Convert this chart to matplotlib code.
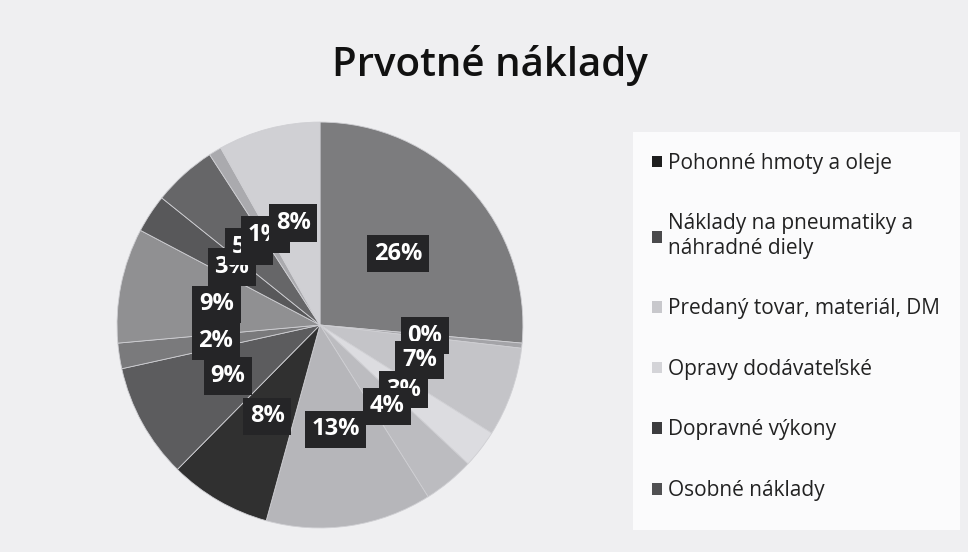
import matplotlib
matplotlib.use('Agg')
import matplotlib.pyplot as plt

# slice values in percent, clockwise from 12 o'clock
values = [26, 0.4, 7, 3, 4, 13, 8, 9, 2, 9, 3, 5, 1, 8]
value_labels = ['26%', '0%', '7%', '3%', '4%', '13%', '8%', '9%', '2%', '9%', '3%', '5%', '1%', '8%']
slice_colors = ['#7c7c7e', '#a4a4a8', '#c4c4c8', '#dcdce0', '#bcbcc0', '#b6b6ba', '#303030',
                '#5c5c5e', '#7a7a7c', '#909092', '#58585a', '#666668', '#aaaaae', '#d0d0d4']
legend_names = ['Pohonné hmoty a oleje',
                'Náklady na pneumatiky a\nnáhradné diely',
                'Predaný tovar, materiál, DM',
                'Opravy dodávateľské',
                'Dopravné výkony',
                'Osobné náklady']
legend_colors = ['#1e1e1e', '#4a4a4c', '#c8c8cc', '#d4d4d8', '#3c3c3e', '#505052']

plt.rcParams['font.family'] = ['Open Sans', 'DejaVu Sans']

fig = plt.figure(figsize=(9.68, 5.52), dpi=100, facecolor='#efeff1')

# pie
ax = fig.add_axes([0.1167, 0.0362, 0.4277, 0.75])
wedges, texts, autotexts = ax.pie(values, colors=slice_colors, startangle=90, counterclock=False,
                                  autopct='%d', pctdistance=0.52,
                                  wedgeprops=dict(edgecolor='#cfcfd3', linewidth=0.6))
for t, lab in zip(autotexts, value_labels):
    t.set_text(lab)
    t.set_color('white')
    t.set_fontsize(17)
    t.set_fontweight('bold')
    t.set_bbox(dict(boxstyle='square,pad=0.28', facecolor='#252527', edgecolor='none'))
ax.set_xlim(-1.02, 1.02)
ax.set_ylim(-1.02, 1.02)
ax.set_aspect('equal')

# title
fig.text(0.506, 0.882, 'Prvotné náklady', ha='center', va='center',
         fontsize=29, fontweight='semibold', color='#111111')

# legend panel
fig.patches.append(plt.Rectangle((0.654, 0.04), 0.338, 0.72, transform=fig.transFigure,
                                 facecolor='#fbfbfc', edgecolor='none', zorder=0))
handles = [plt.Rectangle((0, 0), 1, 1, facecolor=c) for c in legend_colors]
fig.legend(handles, legend_names, loc='upper left', bbox_to_anchor=(0.654, 0.757),
           frameon=False, fontsize=15, labelspacing=1.9, handlelength=0.5,
           handleheight=0.5, handletextpad=0.3, labelcolor='#222222')

fig.savefig('out.png', dpi=100, facecolor=fig.get_facecolor())
